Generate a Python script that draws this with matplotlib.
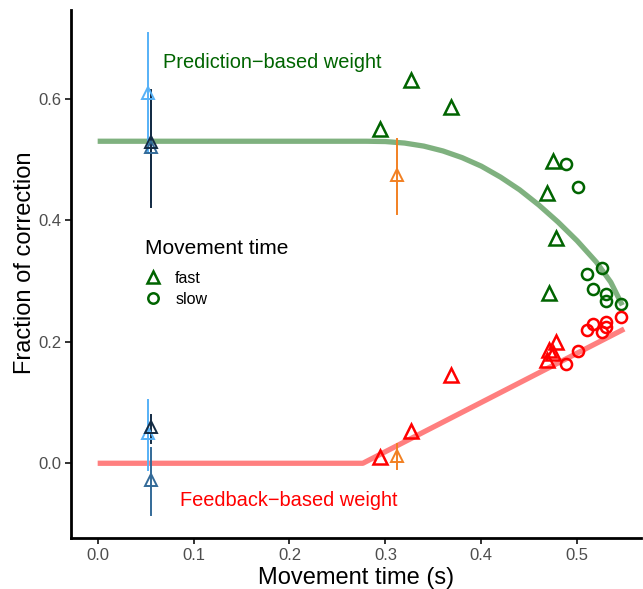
import matplotlib.pyplot as plt
from matplotlib.lines import Line2D

plt.rcParams['font.family'] = ['Liberation Sans', 'DejaVu Sans']

# model curves
pred_x = [0.0, 0.28, 0.30, 0.32, 0.34, 0.36, 0.38, 0.40, 0.42, 0.44, 0.46,
          0.48, 0.50, 0.52, 0.535, 0.547]
pred_y = [0.53, 0.53, 0.5295, 0.527, 0.522, 0.514, 0.503, 0.489, 0.471, 0.450,
          0.425, 0.397, 0.366, 0.331, 0.298, 0.260]
fb_x = [0.0, 0.2765, 0.549]
fb_y = [0.0, 0.0, 0.221]

# fast movements (triangles)
fast_x = [0.2944, 0.3268, 0.3686, 0.4748, 0.4686, 0.4779, 0.4706]
fast_pred = [0.550, 0.631, 0.587, 0.498, 0.444, 0.371, 0.280]
fast_fb = [0.010, 0.053, 0.145, 0.182, 0.170, 0.200, 0.186]

# slow movements (circles)
slow_x = [0.488, 0.501, 0.5106, 0.5255, 0.5168, 0.530, 0.530, 0.5454]
slow_pred = [0.4925, 0.455, 0.3115, 0.322, 0.287, 0.278, 0.267, 0.262]
slow_fb = [0.163, 0.184, 0.219, 0.2155, 0.2287, 0.233, 0.224, 0.241]

# other conditions with error bars: x, y, low, high, colour
ref_x = [0.0528, 0.0553, 0.0553, 0.0528, 0.0553, 0.0553, 0.3118, 0.3118]
ref_y = [0.609, 0.520, 0.528, 0.049, 0.060, -0.0275, 0.474, 0.012]
ref_lo = [0.510, 0.430, 0.422, -0.011, 0.033, -0.085, 0.410, -0.010]
ref_hi = [0.708, 0.610, 0.615, 0.104, 0.080, 0.025, 0.533, 0.031]
ref_col = ['#56B1F7', '#336A98', '#132B43', '#56B1F7', '#132B43', '#336A98',
           '#F28022', '#F28022']

green = '#006400'
red = '#FF0000'

fig = plt.figure(figsize=(6.43, 5.89), dpi=100)
ax = fig.add_axes([71 / 643, 51 / 589, 570 / 643, 528 / 589])

ax.plot(pred_x, pred_y, color=green, alpha=0.5, lw=3.8, solid_capstyle='butt',
        solid_joinstyle='round', zorder=1)
ax.plot(fb_x, fb_y, color=red, alpha=0.5, lw=3.8, solid_capstyle='butt', zorder=1)

for x, y, lo, hi, c in zip(ref_x, ref_y, ref_lo, ref_hi, ref_col):
    ax.plot([x, x], [lo, hi], color=c, lw=1.4, zorder=2)
    ax.plot(x, y, marker='^', ms=9, mfc='none', mec=c, mew=1.4, zorder=3)

ax.plot(fast_x, fast_pred, ls='none', marker='^', ms=9.5, mfc='none', mec=green, mew=1.8)
ax.plot(slow_x, slow_pred, ls='none', marker='o', ms=8, mfc='none', mec=green, mew=1.8)
ax.plot(fast_x, fast_fb, ls='none', marker='^', ms=9.5, mfc='none', mec=red, mew=1.8)
ax.plot(slow_x, slow_fb, ls='none', marker='o', ms=8, mfc='none', mec=red, mew=1.8)

ax.text(0.068, 0.66, 'Prediction\u2212based weight', color=green, fontsize=14.4,
        ha='left', va='center')
ax.text(0.086, -0.062, 'Feedback\u2212based weight', color=red, fontsize=14.4,
        ha='left', va='center')

# legend
fig.text(145 / 643, 1 - 248 / 589, 'Movement time', fontsize=15, ha='left', va='center')
handles = [
    Line2D([], [], ls='none', marker='^', ms=9, mfc='none', mec=green, mew=1.8),
    Line2D([], [], ls='none', marker='o', ms=7.5, mfc='none', mec=green, mew=1.8),
]
ax.legend(handles, ['fast', 'slow'], frameon=False, loc='upper left',
          bbox_to_anchor=(143.5 / 643, 1 - 271 / 589), bbox_transform=fig.transFigure,
          fontsize=11.5, handlelength=1.2, handletextpad=0.78, labelspacing=0.38,
          borderpad=0, borderaxespad=0)

ax.set_xlim(-0.0278, 0.5665)
ax.set_ylim(-0.123, 0.746)
ax.set_xticks([0.0, 0.1, 0.2, 0.3, 0.4, 0.5])
ax.set_yticks([0.0, 0.2, 0.4, 0.6])
ax.set_xticklabels(['0.0', '0.1', '0.2', '0.3', '0.4', '0.5'])
ax.set_yticklabels(['0.0', '0.2', '0.4', '0.6'])

for s in ['top', 'right']:
    ax.spines[s].set_visible(False)
for s in ['left', 'bottom']:
    ax.spines[s].set_linewidth(2)
    ax.spines[s].set_color('black')
ax.tick_params(length=4, width=1.4, color='#333333', labelcolor='#4D4D4D',
               labelsize=12, pad=3)

ax.set_xlabel('Movement time (s)', fontsize=17, labelpad=3)
ax.set_ylabel('Fraction of correction', fontsize=17)
ax.yaxis.set_label_coords(-0.062, 0.521)

fig.savefig('out.png', dpi=100)
